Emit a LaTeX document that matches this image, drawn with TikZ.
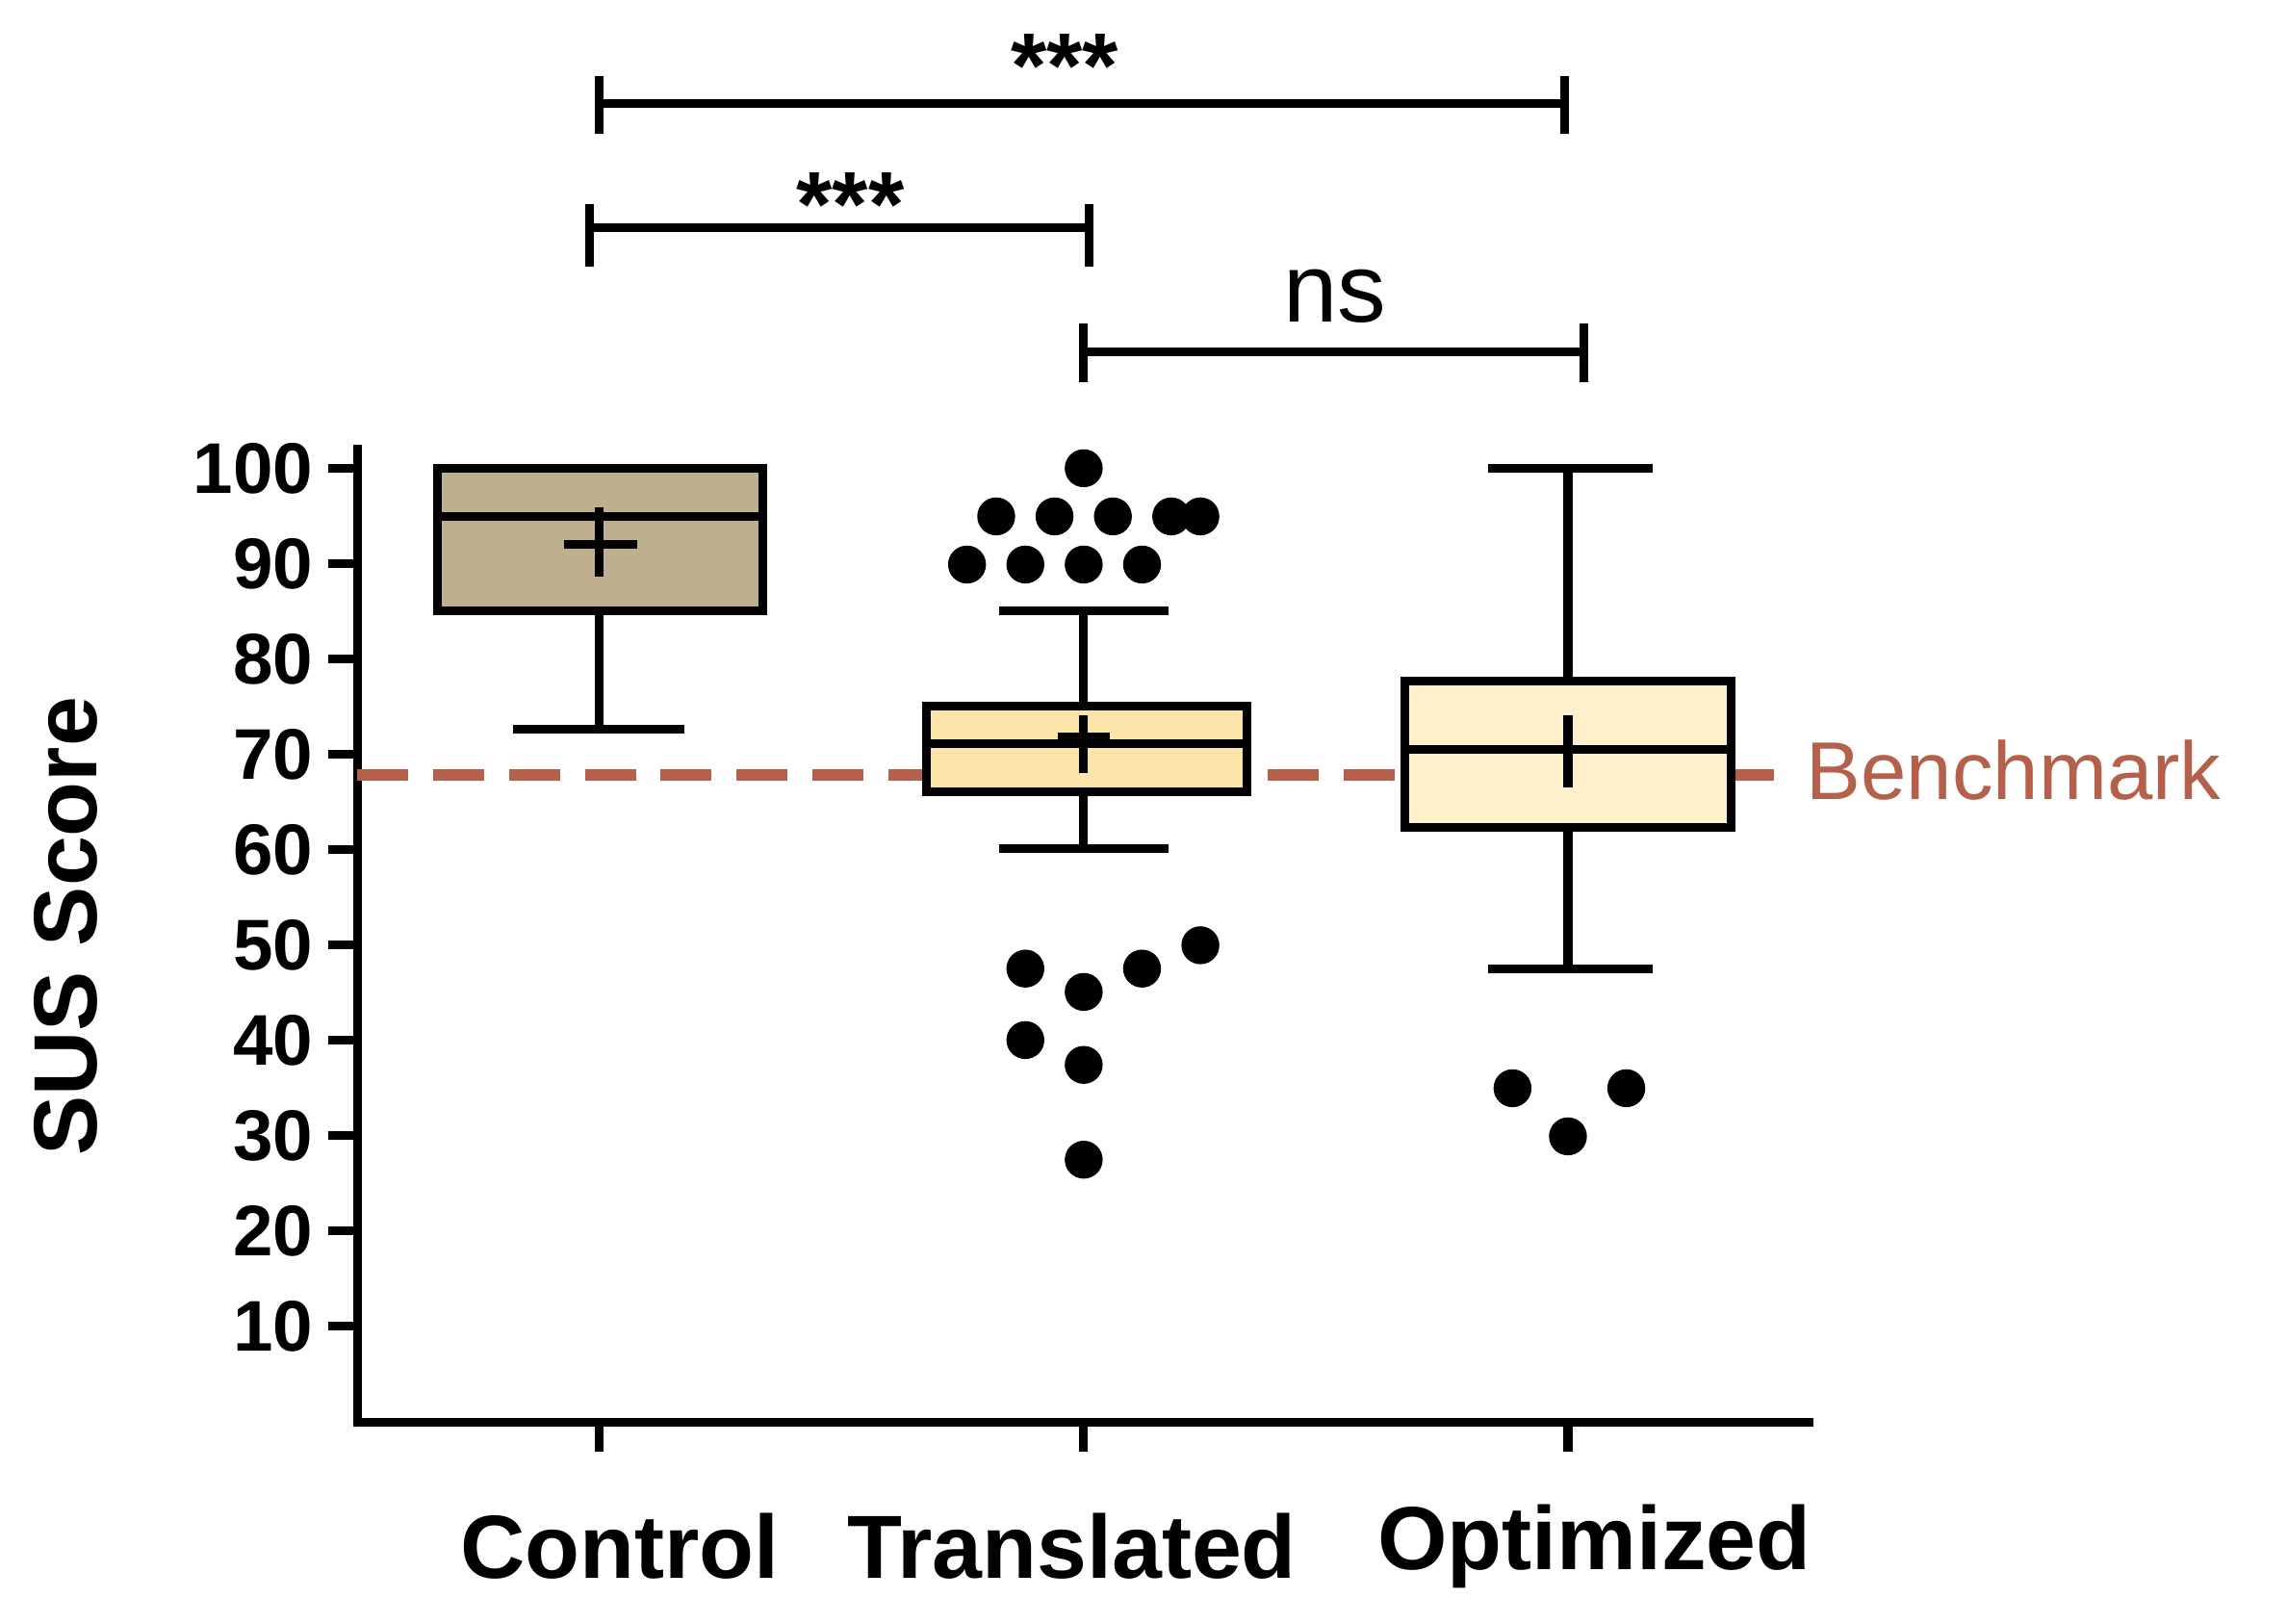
\documentclass[tikz,border=0pt]{standalone}
\usepackage{fontspec}
\setmainfont{Liberation Sans}
\begin{document}
\begin{tikzpicture}[x=0.2mm,y=-0.2mm,
  ln/.style={line width=3.4pt,black},
  box/.style={ln,line join=miter},
  dot/.style={fill=black,circle,inner sep=0pt,minimum size=5.2mm},
  num/.style={anchor=east,font=\fontsize{28}{30}\selectfont\bfseries,inner sep=0pt},
  cat/.style={font=\fontsize{35}{38}\selectfont\bfseries,inner sep=0pt},
  star/.style={font=\fontsize{36}{38}\selectfont\bfseries,inner sep=0pt}]
\useasboundingbox (0,0) rectangle (1568,1113);
\definecolor{bench}{HTML}{B5604A}
% axes
\coordinate (o) at (245,975); \coordinate (yt) at (245,305); \coordinate (xr) at (1243,975);
\draw[ln] (yt) -- (o) -- (xr);
\foreach \v in {10,20,...,100}{
  \pgfmathsetmacro\yy{321+(100-\v)*6.5333}
  \draw[ln] (225,\yy) -- (245,\yy);
  \node[num] (n\v) at (215,\yy) {\v};
}
\foreach \xx/\nm in {411/a,743/b,1075/c}{\draw[ln] (\xx,975) -- (\xx,995);}
\node[cat,rotate=90] (yl) at (45,635) {SUS Score};
\node[cat] (c1) at (425,1060) {Control};
\node[cat] (c2) at (735,1060) {Translated};
\node[cat] (c3) at (1093,1060) {Optimized};
% benchmark
\draw[bench,line width=4.5pt,dash pattern=on 7mm off 3.4mm] (245,531) -- (1220,531);
\node[bench,anchor=west,font=\fontsize{32}{34}\selectfont,inner sep=0pt] (bm) at (1238,528) {Benchmark};
% Control
\draw[ln] (411,419) -- (411,500); \draw[ln] (352,500) -- (469,500);
\draw[box,fill={rgb,255:red,190;green,176;blue,143}] (300,321) rectangle (523,419);
\draw[ln] (300,354) -- (523,354);
\draw[ln] (411,348) -- (411,395); \draw[ln] (387,373) -- (437,373);
% Translated
\draw[ln] (743,419) -- (743,582); \draw[ln] (685,419) -- (801,419); \draw[ln] (685,582) -- (801,582);
\draw[box,fill={rgb,255:red,252;green,228;blue,170}] (635,484) rectangle (855,543);
\draw[ln] (635,510) -- (855,510);
\draw[ln] (743,490) -- (743,530); \draw[ln] (725,505) -- (761,505);
\foreach \p in {(743,321),(683,354),(723,354),(763,354),(803,354),(823,354),(663,387),(703,387),(743,387),(783,387),(703,664),(743,680),(783,664),(823,648),(703,713),(743,730),(743,795)}
  \node[dot] at \p {};
% Optimized
\draw[ln] (1075,321) -- (1075,664); \draw[ln] (1020,321) -- (1133,321); \draw[ln] (1020,664) -- (1133,664);
\draw[box,fill={rgb,255:red,255;green,241;blue,204}] (963,467) rectangle (1187,567);
\draw[ln] (963,514) -- (1187,514);
\draw[ln] (1075,490) -- (1075,540);
\foreach \p in {(1037,746),(1075,779),(1115,746)} \node[dot] at \p {};
% brackets
\draw[ln] (411,71) -- (1073,71); \draw[ln] (411,52) -- (411,92); \draw[ln] (1073,52) -- (1073,92);
\node[star] (s1) at (730,45) {***};
\draw[ln] (404,156) -- (747,156); \draw[ln] (404,140) -- (404,183); \draw[ln] (747,140) -- (747,183);
\node[star] (s2) at (583,140) {***};
\draw[ln] (743,241) -- (1086,241); \draw[ln] (743,222) -- (743,262); \draw[ln] (1086,222) -- (1086,262);
\node[font=\fontsize{38}{40}\selectfont,inner sep=0pt] (ns) at (915,203) {ns};
\end{tikzpicture}
\end{document}
